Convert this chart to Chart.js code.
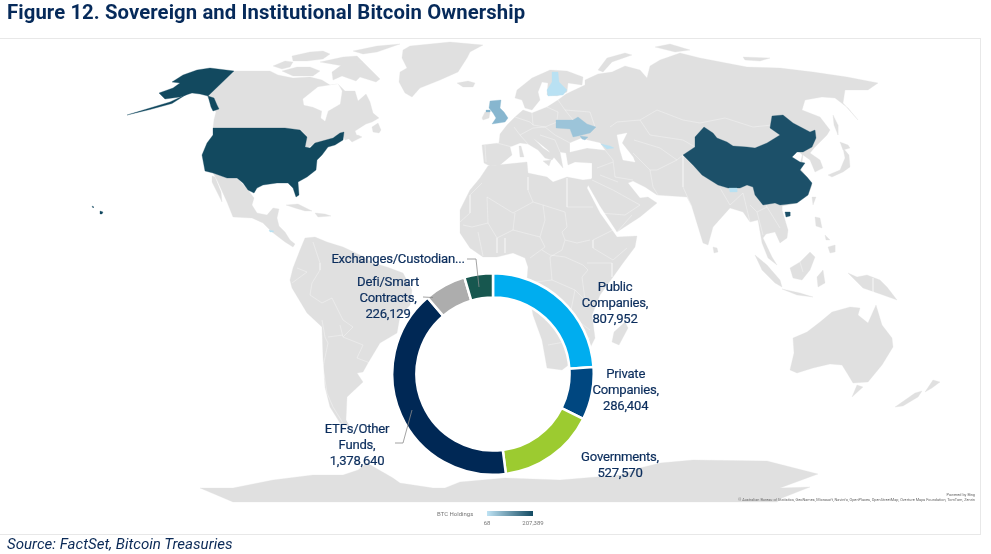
<!DOCTYPE html>
<html><head><meta charset="utf-8">
<script src="https://cdn.jsdelivr.net/npm/chart.js@4"></script>
<style>
html,body{margin:0;padding:0;background:#fff;width:991px;height:554px;overflow:hidden;font-family:Roboto,sans-serif}
canvas{position:absolute}
.t{position:absolute;white-space:nowrap}
#title{left:7px;top:0;font:700 20.3px/24px Roboto;color:#062a5a;letter-spacing:.1px}
#source{left:7px;top:535px;font:italic 400 15.1px/18px Roboto;color:#0b2a57}
#frame{position:absolute;left:-2px;top:38px;width:981px;height:495px;border:1px solid #e8e8e8}
.lab{position:absolute;text-align:center;transform:translateX(-50%);font:400 13.1px/16px Roboto;color:#0b2d5c;letter-spacing:-.22px;white-space:pre;-webkit-text-stroke:.2px #0b2d5c}
#legT{left:437px;top:510px;font:400 6px/7px Roboto;color:#777}
#legBar{position:absolute;left:487px;top:511px;width:46px;height:5px;background:linear-gradient(90deg,#bfe3f4,#124a62)}
.legV{position:absolute;transform:translateX(-50%);top:519px;font:400 6px/7px Roboto;color:#777}
#cr1,#cr2{right:16px;font:400 3.85px/5px Roboto;color:#666}
#cr1{top:492px}#cr2{top:497px}
</style></head><body>
<div id="frame"></div>
<canvas id="map" width="991" height="554" style="left:0;top:0"></canvas>
<canvas id="ring" width="204" height="204" style="left:390.5px;top:272.3px"></canvas>
<canvas id="lead" width="991" height="554" style="left:0;top:0"></canvas>
<div class="t" id="title">Figure 12. Sovereign and Institutional Bitcoin Ownership</div>
<div class="t" id="source">Source: FactSet, Bitcoin Treasuries</div>
<div class="t" id="legT">BTC Holdings</div><div id="legBar"></div>
<div class="legV" style="left:487px" id="legMin"></div><div class="legV" style="left:533px" id="legMax"></div>
<div class="t" id="cr1">Powered by Bing</div>
<div class="t" id="cr2">© Australian Bureau of Statistics, GeoNames, Microsoft, Navinfo, OpenPlaces, OpenStreetMap, Overture Maps Foundation, TomTom, Zenrin</div>
<script>
// ---- doughnut data ----
const categories=["Public Companies","Private Companies","Governments","ETFs/Other Funds","Defi/Smart Contracts","Exchanges/Custodian..."];
const holdings=[807952,286404,527570,1378640,226129,155000];
const ringColors=["#00adef","#004780","#9ccb30","#002855","#adadad","#17574f"];
const labelLines=[["Public","Companies,"],["Private","Companies,"],["Governments,"],["ETFs/Other","Funds,"],["Defi/Smart","Contracts,"],["Exchanges/Custodian..."]];
const showValue=[true,true,true,true,true,false];
const labelX=[615,625.7,620,357,388,398];
const labelTop=[279,365.5,449,420.5,274,251];
const holdingsRange=[68,207389];

// ---- map shapes, in map units ----
const land=[
 // Canada
 [[234,71],[270,71],[278,75],[293,78],[310,77],[322,80],[330,85],[338,84],[345,91],[355,91],[358,101],[366,94],[370,102],[373,113],[379,118],[372,122],[366,124],[355,131],[357,136],[345,140],[342,133],[330,139],[313,145],[306,148],[300,130],[285,128],[213,128],[214,120],[216,112],[207,96]],
 // Arctic islands
 [[273,66],[285,61],[293,62],[290,67],[282,69]],
 [[282,71],[297,67],[310,67],[320,71],[313,76],[293,76]],
 [[292,56],[310,52],[323,51],[330,54],[323,59],[307,61],[293,61]],
 [[320,62],[343,57],[357,56],[363,62],[343,66]],
 [[332,72],[343,64],[363,62],[380,79],[376,82],[360,77],[356,81],[342,76],[333,80]],
 [[353,51],[377,46],[400,44],[377,52],[363,54]],
 // Atlantic Canada
 [[372,127],[378,123],[381,130],[379,133],[373,132]],
 [[348,138],[358,135],[362,137],[352,142]],
 // Greenland
 [[410,46],[450,42],[483,45],[470,52],[467,58],[458,72],[440,80],[420,88],[412,97],[405,93],[399,82],[400,72],[407,68],[402,58],[403,50]],
 // Iceland
 [[457,83],[468,81],[475,83],[473,87],[463,87]],
 // Mexico + Central America
 [[213,173],[227,178],[237,178],[248,190],[254,198],[252,205],[257,213],[267,215],[273,208],[279,209],[277,218],[279,226],[285,232],[290,240],[295,244],[293,247],[285,242],[272,232],[263,223],[252,218],[233,217],[227,202],[217,180]],
 [[212,176],[215,177],[221,192],[222,202],[216,190],[212,182]],
 [[286,205],[298,204],[312,211],[305,211],[295,208]],
 [[315,213],[325,214],[331,216],[318,217]],
 // South America
 [[300,250],[305,238],[315,237],[327,242],[343,247],[360,255],[373,263],[387,267],[403,273],[412,290],[410,305],[400,316],[397,333],[380,343],[368,363],[363,372],[357,373],[363,382],[347,397],[346,420],[350,427],[340,423],[330,407],[325,387],[323,357],[322,327],[307,313],[292,288],[290,280],[293,268]],
 // Antarctica
 [[200,488],[233,488],[273,480],[313,475],[343,475],[358,470],[367,463],[393,478],[400,483],[433,488],[445,488],[460,482],[505,478],[560,480],[620,475],[640,468],[660,463],[693,460],[767,461],[818,474],[780,488],[810,487],[782,498],[777,502],[233,502]],
 // Africa
 [[488,166],[527,162],[528,173],[547,177],[553,182],[567,177],[583,180],[591,179],[587,188],[600,213],[617,237],[637,236],[635,247],[623,263],[613,277],[600,295],[592,315],[595,338],[590,348],[575,360],[562,370],[547,368],[542,340],[533,315],[527,280],[528,267],[525,258],[513,253],[497,257],[483,257],[470,248],[460,233],[460,210],[470,190],[480,178]],
 // Madagascar
 [[625,322],[628,328],[619,345],[612,342],[614,332]],
 // Scandinavia + Finland
 [[515,98],[517,90],[532,78],[550,70],[567,71],[583,77],[582,85],[568,83],[567,92],[557,96],[547,95],[548,83],[542,82],[538,92],[540,100],[532,110],[525,108],[522,100]],
 // Eurasia
 [[484,163],[482,145],[499,143],[500,134],[507,125],[515,117],[523,110],[532,113],[547,107],[558,100],[566,94],[585,85],[585,80],[598,74],[612,72],[625,66],[640,70],[647,78],[650,66],[660,60],[680,53],[700,58],[747,67],[780,68],[813,72],[847,77],[878,83],[868,90],[845,90],[843,103],[858,120],[848,108],[835,98],[822,97],[805,100],[802,110],[820,117],[830,130],[827,135],[815,147],[810,153],[820,160],[823,168],[815,172],[810,160],[803,155],[802,163],[800,168],[807,177],[812,185],[808,195],[797,203],[782,206],[782,210],[788,230],[787,238],[780,243],[775,232],[766,234],[763,238],[772,257],[777,265],[768,258],[762,243],[758,220],[750,222],[743,212],[730,208],[713,227],[708,245],[703,243],[692,207],[687,197],[657,195],[645,187],[633,181],[628,183],[640,198],[648,197],[657,203],[640,217],[617,232],[600,206],[587,183],[592,178],[592,163],[575,162],[568,165],[566,153],[560,152],[563,168],[552,155],[548,150],[533,138],[543,148],[555,156],[552,160],[545,158],[538,150],[528,144],[520,143],[510,147],[512,155],[500,165],[490,166]],
 // Islands of Asia and Oceania
 [[598,70],[607,58],[625,53],[632,55],[612,62],[603,72]],
 [[655,47],[670,44],[690,50],[675,52]],
 [[743,57],[770,58],[760,61],[745,60]],
 [[519,146],[521,146],[524,157],[520,157]],
 [[543,161],[551,160],[549,166]],
 [[482,118],[485,112],[490,112],[489,118],[483,120]],
 [[828,175],[840,170],[845,158],[843,148],[849,155],[850,167],[843,172],[832,177]],
 [[840,142],[848,145],[850,148],[843,150]],
 [[833,115],[838,125],[838,135],[834,125]],
 [[812,197],[816,197],[813,205]],
 [[713,247],[717,248],[718,252],[714,253]],
 [[755,255],[767,265],[780,280],[782,287],[775,283],[762,270]],
 [[782,289],[800,293],[813,297],[797,295]],
 [[790,268],[800,262],[810,252],[815,257],[810,270],[802,280],[793,278]],
 [[817,277],[823,270],[825,283],[818,287]],
 [[848,273],[857,277],[867,275],[880,280],[887,287],[897,300],[883,295],[863,288],[857,282]],
 [[815,217],[820,218],[822,228],[816,226]],
 [[828,247],[835,245],[835,252],[830,253]],
 [[825,235],[830,240],[826,240]],
 [[793,338],[807,332],[820,322],[832,312],[850,307],[860,308],[858,315],[868,323],[876,305],[882,325],[892,338],[893,347],[882,365],[868,382],[853,383],[847,373],[842,365],[830,364],[813,368],[797,373],[790,370],[794,353]],
 [[852,397],[857,385],[863,387]],
 [[895,407],[915,393],[922,391],[918,397],[903,406]],
 [[925,392],[933,380],[940,382],[932,388]]
];
const water=[
 // Hudson Bay
 [[303,99],[318,87],[338,84],[342,91],[340,104],[328,111],[325,121],[321,118],[322,111],[313,107],[304,105]],
 // Black Sea
 [[570,143],[582,138],[587,140],[600,143],[605,150],[587,148],[570,152]],
 // Caspian
 [[617,135],[627,133],[622,143],[633,157],[635,162],[623,160],[620,150]],
 // Bohai
 [[790,155],[797,150],[802,155],[800,163],[795,160]]
];
const usaShapes=[
 [[213,128],[285,128],[300,130],[307,137],[305,147],[310,148],[315,143],[333,138],[340,133],[344,132],[343,140],[335,145],[328,147],[322,155],[317,160],[316,170],[307,177],[298,182],[299,195],[296,197],[293,188],[288,183],[277,183],[263,185],[257,188],[254,193],[248,190],[243,183],[237,178],[227,178],[213,173],[205,171],[202,155],[207,143],[213,135]],
 [[234,71],[210,68],[197,70],[183,75],[172,82],[180,83],[173,88],[159,93],[165,99],[180,97],[192,93],[200,94],[208,96]],
 [[187,94],[170,102],[150,108],[127,115],[150,109.5],[172,103.5]],
 [[208,96],[214,98],[217,105],[219,109],[213,111],[211,107]],
 [[100,211],[103,212],[102,214],[100,214]],
 [[92,206],[94,207],[93,208]]
];
const chinaShapes=[
 [[683,155],[695,147],[695,137],[704,127],[713,133],[717,138],[727,142],[733,146],[747,147],[755,148],[767,143],[780,135],[770,128],[772,116],[783,115],[793,123],[810,132],[815,130],[816,138],[812,147],[803,152],[797,152],[792,157],[800,162],[805,163],[800,170],[807,177],[812,183],[808,195],[797,203],[780,205],[775,203],[763,205],[755,195],[753,187],[747,185],[740,188],[728,188],[718,185],[702,175],[693,165]],
 [[785,212],[790,212],[790,216],[786,217]]
];
const ukShapes=[[[490,101],[501,100],[500,108],[504,112],[508,118],[505,122],[492,124],[496,118],[493,113],[489,108]],[[486,110],[490,110],[490,112],[486,112]]];
const ukraineShapes=[[[556,120],[573,120],[578,117],[587,124],[596,127],[590,133],[582,135],[578,136],[573,137],[570,129],[556,128]],[[580,136],[588,137],[585,140],[582,139]]];
const lightShapes=[
 [[552,72],[558,72],[559,82],[567,90],[563,95],[548,96],[547,90],[552,82]],
 [[601,144],[610,146],[614,148],[607,149]],
 [[729,188],[737,188],[737,192],[730,192]],
 [[269,230],[274,231],[273,232],[270,232]]
];
const borders=[
 [[528,177],[528,190],[533,202],[543,205],[565,212]],[[567,178],[567,207],[593,207]],[[565,212],[567,227],[562,232],[565,240],[577,243],[590,240]],
 [[487,197],[513,213],[533,202]],[[487,197],[488,223],[472,227],[463,225]],[[515,213],[513,230],[540,237],[545,247],[530,258]],[[543,205],[545,220],[540,237]],
 [[482,183],[470,195],[470,213],[460,222]],[[542,250],[550,255],[565,257],[583,265],[588,270],[582,277]],[[565,240],[562,250],[550,257]],
 [[593,248],[613,260],[627,248]],[[613,230],[593,240],[593,248]],[[587,263],[612,263],[612,277]],[[550,257],[552,280],[535,282]],[[552,280],[575,290],[585,300],[582,277]],
 [[497,238],[497,253]],[[505,238],[505,253]],[[478,232],[483,256]],[[488,223],[497,238],[513,230]],[[575,290],[570,315],[590,330]],[[545,320],[570,315]],[[548,345],[575,340],[590,338]],
 [[313,242],[320,263],[320,270],[312,283]],[[297,268],[307,272],[292,283]],[[312,283],[310,295],[322,303],[332,298],[343,320],[353,327],[343,337],[363,345],[357,358],[370,363]],
 [[322,320],[325,337],[328,343],[323,367],[327,393],[333,407],[343,423]],[[328,337],[343,335]],[[343,337],[340,325]],
 [[610,127],[617,122],[640,120],[657,110],[683,120],[700,123],[725,118],[753,127],[772,125]],[[613,160],[615,177],[633,180]],[[657,170],[677,160],[683,155],[683,167],[683,187],[692,207]],
 [[650,170],[653,187],[658,195]],[[633,153],[650,170],[657,170]],[[597,168],[613,162]],[[592,180],[613,190],[640,205]],[[600,175],[618,182]],[[613,160],[605,150]],[[640,120],[650,135],[683,140],[695,147]],[[634,140],[660,148],[677,160]],
 [[485,145],[486,162]],[[497,143],[512,147]],[[514,127],[520,135],[528,144]],[[532,113],[533,125],[545,127],[557,122]],[[520,135],[533,128],[545,127],[555,135],[570,143]],[[540,135],[555,140],[560,152]],[[515,117],[530,122],[533,125]],[[547,107],[558,112],[557,120]],[[558,100],[565,110],[573,120]],[[565,110],[590,112],[595,127]],
 [[720,188],[730,205],[743,193],[750,222]],[[757,212],[767,207],[780,228]],[[750,205],[757,212],[763,235]],[[767,207],[763,198]],[[873,278],[873,297]],[[800,262],[803,272]],
 [[600,213],[625,215],[640,205]],[[617,232],[632,215]]
];
const leaderLines=[
 [[467,259],[476,259],[479,287]],
 [[423,297],[433,297.5]],
 [[395,443],[403,443],[412,410]]
];

// ---- colours ----
const landColor="#e0e0e0", usaColor="#12495f", chinaColor="#1c5069", ukColor="#87b6cf", ukraineColor="#9cc4d9", lightColor="#b9e1f3";

function toPts(s){return s.map(p=>({x:p[0],y:p[1]}));}
function shape(s,color){return {data:toPts(s.concat([s[0]])),showLine:true,fill:'shape',tension:0,backgroundColor:color,borderColor:color,borderWidth:.3,pointRadius:0,pointHoverRadius:0};}
function path(s,color,w){return {data:toPts(s),showLine:true,fill:false,tension:0,borderColor:color,borderWidth:w,pointRadius:0,pointHoverRadius:0};}
function layer(id,datasets){
 return new Chart(document.getElementById(id),{type:'scatter',data:{datasets},
  options:{responsive:false,animation:false,events:[],layout:{padding:0},
   plugins:{legend:{display:false},tooltip:{enabled:false}},
   scales:{x:{type:'linear',min:0,max:991,display:false},y:{type:'linear',min:0,max:554,reverse:true,display:false}}}});
}
layer('map',[].concat(
 land.map(s=>shape(s,landColor)),
 water.map(s=>shape(s,'#ffffff')),
 borders.map(s=>path(s,'rgba(255,255,255,.6)',.55)),
 usaShapes.map(s=>shape(s,usaColor)),
 chinaShapes.map(s=>shape(s,chinaColor)),
 ukShapes.map(s=>shape(s,ukColor)),
 ukraineShapes.map(s=>shape(s,ukraineColor)),
 lightShapes.map(s=>shape(s,lightColor))
).map((d,i,a)=>Object.assign(d,{order:a.length-i})));

new Chart(document.getElementById('ring'),{type:'doughnut',
 data:{labels:categories,datasets:[{data:holdings,backgroundColor:ringColors,borderColor:'#ffffff',borderWidth:2.5}]},
 options:{responsive:false,animation:false,events:[],cutout:'76%',layout:{padding:0},
  plugins:{legend:{display:false},tooltip:{enabled:false}}}});

layer('lead',leaderLines.map(s=>path(s,'#8c8c8c',.8)));

categories.forEach((c,i)=>{
 const d=document.createElement('div');d.className='lab';
 const lines=labelLines[i].slice();
 if(showValue[i])lines.push(holdings[i].toLocaleString('en-US'));
 d.textContent=lines.join('\n');
 d.style.left=labelX[i]+'px';d.style.top=labelTop[i]+'px';
 document.body.appendChild(d);
});
document.getElementById('legMin').textContent=holdingsRange[0].toLocaleString('en-US');
document.getElementById('legMax').textContent=holdingsRange[1].toLocaleString('en-US');
</script>
</body></html>
